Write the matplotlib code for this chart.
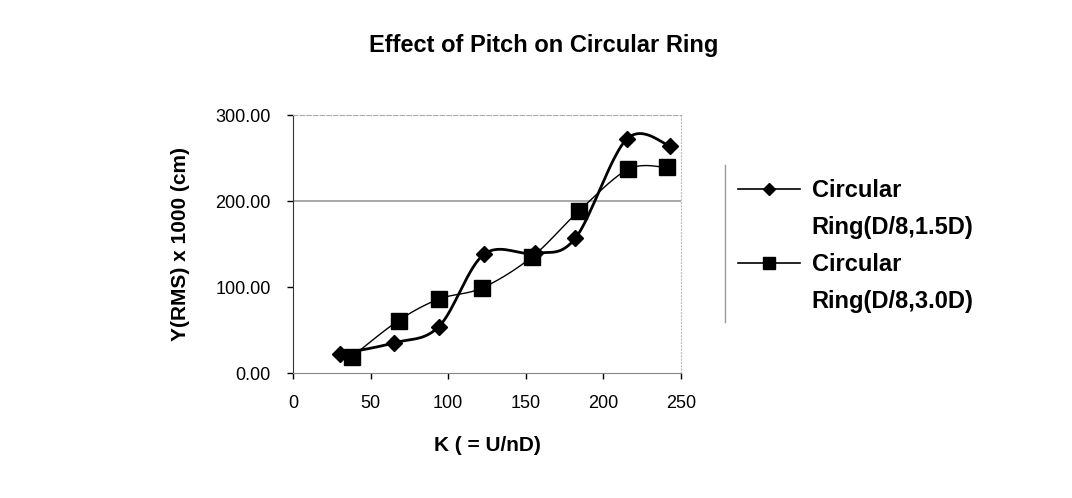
import matplotlib.pyplot as plt
import numpy as np
from matplotlib.lines import Line2D

plt.rcParams['font.family'] = ['Liberation Sans', 'DejaVu Sans']

# Valeurs
k_15 = [30, 65, 94, 123, 156, 182, 215, 243]
y_15 = [22, 35, 54, 138, 139, 157, 272, 264]
k_30 = [38, 68, 94, 122, 154, 184, 216, 241]
y_30 = [19, 61, 86, 99, 135, 188, 237, 239]
labels = [("Circular", "Ring(D/8,1.5D)"), ("Circular", "Ring(D/8,3.0D)")]
y_ticks = [0, 100, 200, 300]
x_ticks = [0, 50, 100, 150, 200, 250]


# Courbe lissée façon Excel (Catmull-Rom)
def lisser(x, y, n=20):
    p = np.column_stack([x, y]).astype(float)
    p = np.vstack([p[0], p, p[-1]])
    out = []
    for i in range(1, len(p) - 2):
        p0, p1, p2, p3 = p[i - 1], p[i], p[i + 1], p[i + 2]
        t = np.linspace(0, 1, n)[:, None]
        seg = 0.5 * ((2 * p1) + (-p0 + p2) * t + (2 * p0 - 5 * p1 + 4 * p2 - p3) * t ** 2
                     + (-p0 + 3 * p1 - 3 * p2 + p3) * t ** 3)
        out.append(seg)
    out = np.vstack(out)
    return out[:, 0], out[:, 1]


fig = plt.figure(figsize=(10.72, 4.98), dpi=100)
ax = fig.add_axes([0.2733, 0.251, 0.362, 0.518])

xs, ys = lisser(k_15, y_15)
ax.plot(xs, ys, color='black', lw=2.0, zorder=3)
ax.plot(k_15, y_15, ls='none', marker='D', ms=8, color='black', zorder=4)
xs, ys = lisser(k_30, y_30)
ax.plot(xs, ys, color='black', lw=1.0, zorder=3)
ax.plot(k_30, y_30, ls='none', marker='s', ms=11, color='black', zorder=4)

ax.axhline(200, color='#999999', lw=1.2, zorder=1)
ax.set_xlim(0, 250)
ax.set_ylim(0, 300)
ax.set_xticks(x_ticks)
ax.set_yticks(y_ticks)
ax.set_yticklabels([f"{v:.2f}" for v in y_ticks])
ax.tick_params(axis='both', labelsize=13, length=4, width=1, direction='out')
ax.tick_params(axis='y', pad=12)
ax.tick_params(axis='x', pad=12)

ax.spines['left'].set_color('#333333')
ax.spines['bottom'].set_color('#888888')
ax.spines['top'].set_color('#aaaaaa')
ax.spines['top'].set_linestyle((0, (4, 2)))
ax.spines['right'].set_color('#bbbbbb')
ax.spines['right'].set_linestyle((0, (1, 2)))
for s in ['top', 'right']:
    ax.spines[s].set_linewidth(0.8)

ax.set_xlabel("K ( = U/nD)", fontsize=15, fontweight='bold', labelpad=17)
ax.set_ylabel("Y(RMS) x 1000 (cm)", fontsize=15, fontweight='bold', labelpad=18)
fig.text(0.507, 0.908, "Effect of Pitch on Circular Ring", fontsize=17, fontweight='bold',
         ha='center', va='center')

# Légende : marqueur aligné sur la première ligne de chaque libellé
vide = Line2D([], [], color='none')
handles = [Line2D([], [], color='black', lw=1.2, marker='D', ms=6), vide,
           Line2D([], [], color='black', lw=1.2, marker='s', ms=8), vide]
textes = [labels[0][0], labels[0][1], labels[1][0], labels[1][1]]
fig.legend(handles, textes, loc='upper left', bbox_to_anchor=(0.680, 0.66), frameon=False,
           prop={'weight': 'bold', 'size': 17}, handlelength=2.6,
           handletextpad=0.5, labelspacing=0.6, borderaxespad=0)
fig.add_artist(Line2D([0.676, 0.676], [0.353, 0.668], color='#999999', lw=1.0))

fig.savefig("out.png", dpi=100)
